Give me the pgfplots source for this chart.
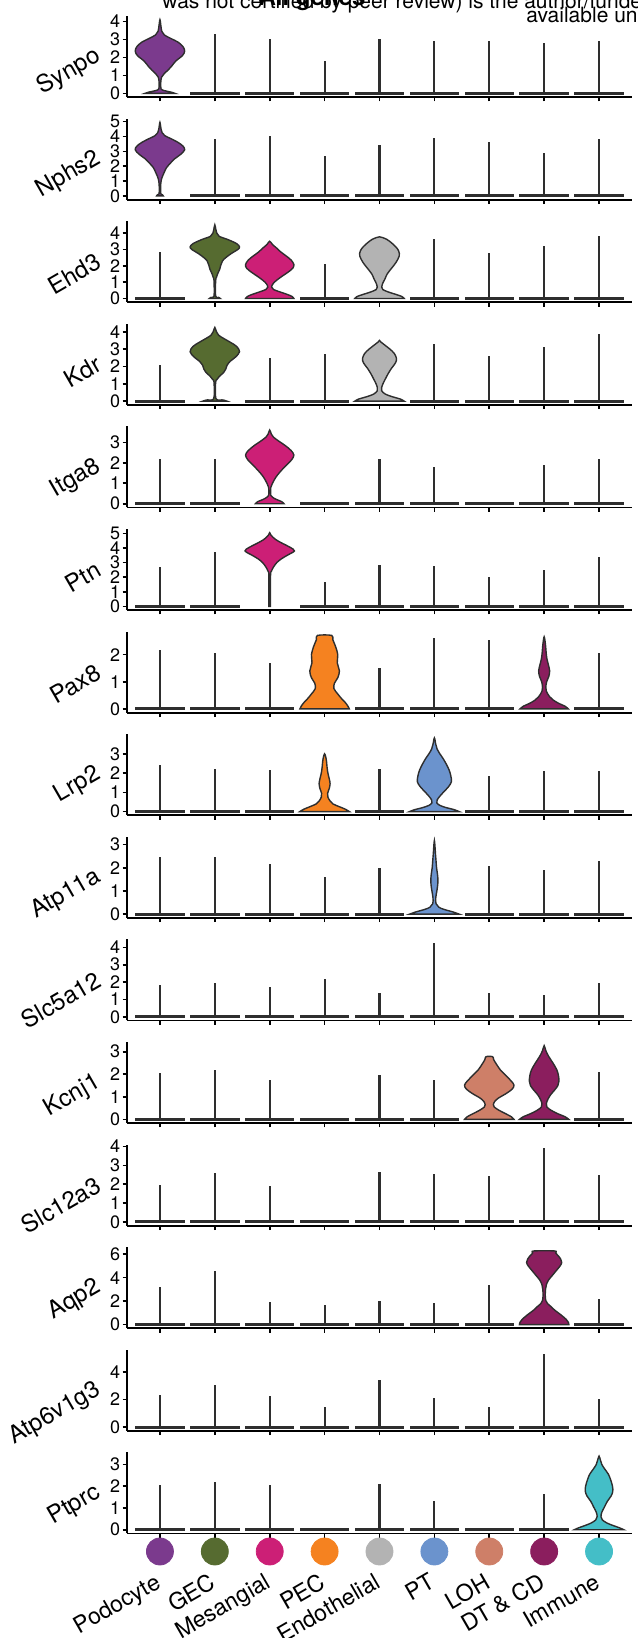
\documentclass[border=0pt]{standalone}
\usepackage{fontspec}
\setmainfont{TeX Gyre Heros}
\usepackage{pgfplots}
\pgfplotsset{compat=1.18}

\definecolor{cPod}{HTML}{7B3A8D}
\definecolor{cGEC}{HTML}{566B30}
\definecolor{cMes}{HTML}{CC1F76}
\definecolor{cPEC}{HTML}{F58220}
\definecolor{cEnd}{HTML}{B3B3B3}
\definecolor{cPT}{HTML}{6B93CD}
\definecolor{cLOH}{HTML}{CE7F68}
\definecolor{cDT}{HTML}{8B1E5E}
\definecolor{cImm}{HTML}{44BEC7}
\definecolor{vline}{HTML}{2E2E2E}

\pgfplotsset{
  panel/.style={width=252.5pt,height=40.5pt,scale only axis,anchor=south west,
    xmin=-0.6,xmax=8.6,
    axis x line=bottom, axis y line=left,
    axis line style={-,line width=0.9pt,black},
    xtick={0,1,...,8}, xticklabels={},
    tick align=outside, major tick length=2.2pt,
    tick style={black,line width=0.8pt},
    yticklabel style={font=\fontsize{9}{9}\selectfont, inner sep=1pt},
    /pgf/number format/assume math mode=true},
  vio/.style={fill=#1, draw=vline, line width=0.7pt, smooth, tension=0.55, mark=none},
}
\tikzset{gl/.style={rotate=30, anchor=east, inner sep=0pt, font=\fontsize{12}{12}\selectfont},
  gp/.style={xshift=-14pt,yshift=1pt}}

\newcommand{\thinviolins}[1]{%
  \addplot[ycomb, draw=vline, line width=1.1pt, mark=none] table[x=x,y=m,row sep=\\]{#1};
  \addplot[draw=none, mark=none, error bars/.cd, x dir=both, x fixed=0.45, error mark=none,
     error bar style={line width=1.5pt, draw=vline}] table[x=x,y expr=0,row sep=\\]{#1};
}
\newcommand{\vio}[3]{%
  \addplot[vio=#1] table[x expr=\thisrow{w}+#2,y=y,row sep=\\]{#3} -- cycle;
}

\begin{document}
\begin{tikzpicture}
\useasboundingbox (0,0) rectangle (318.5pt,-819pt);

% 1 Synpo
\begin{axis}[panel, name=p1, at={(63.5pt,-48.5pt)}, ymin=-0.205, ymax=4.305, ytick={0,1,2,3,4}]
\thinviolins{x m\\1 3.3\\2 3.05\\3 1.8\\4 3.0\\5 2.9\\6 2.9\\7 2.8\\8 2.9\\}
\vio{cPod}{0}{w y\\0.27 0\\0.2 0.07\\0.08 0.15\\0.02 0.25\\0.015 0.6\\0.03 0.9\\0.08 1.1\\0.15 1.3\\0.21 1.5\\0.29 1.8\\0.41 2.1\\0.45 2.35\\0.42 2.6\\0.33 2.85\\0.2 3.05\\0.08 3.25\\0.035 3.45\\0.02 3.7\\0 4.1\\-0.02 3.7\\-0.035 3.45\\-0.08 3.25\\-0.2 3.05\\-0.33 2.85\\-0.42 2.6\\-0.45 2.35\\-0.41 2.1\\-0.29 1.8\\-0.21 1.5\\-0.15 1.3\\-0.08 1.1\\-0.03 0.9\\-0.015 0.6\\-0.02 0.25\\-0.08 0.15\\-0.2 0.07\\-0.27 0\\}
\end{axis}
\node[gl] at ([gp]p1.west) {Synpo};

% 2 Nphs2
\begin{axis}[panel, name=p2, at={(63.5pt,-99.8pt)}, ymin=-0.25, ymax=5.2, ytick={0,1,2,3,4,5}]
\thinviolins{x m\\1 3.8\\2 4.0\\3 2.7\\4 3.45\\5 3.9\\6 3.6\\7 2.9\\8 3.85\\}
\vio{cPod}{0}{w y\\0.06 0\\0.045 0.08\\0.015 0.16\\0.015 0.8\\0.03 1.15\\0.05 1.35\\0.08 1.6\\0.12 1.9\\0.19 2.2\\0.27 2.5\\0.38 2.8\\0.45 3.1\\0.42 3.35\\0.33 3.6\\0.2 3.85\\0.09 4.05\\0.04 4.25\\0.02 4.5\\0 4.95\\-0.02 4.5\\-0.04 4.25\\-0.09 4.05\\-0.2 3.85\\-0.33 3.6\\-0.42 3.35\\-0.45 3.1\\-0.38 2.8\\-0.27 2.5\\-0.19 2.2\\-0.12 1.9\\-0.08 1.6\\-0.05 1.35\\-0.03 1.15\\-0.015 0.8\\-0.015 0.16\\-0.045 0.08\\-0.06 0\\}
\end{axis}
\node[gl] at ([gp]p2.west) {Nphs2};

% 3 Ehd3
\begin{axis}[panel, name=p3, at={(63.5pt,-151.1pt)}, ymin=-0.225, ymax=4.725, ytick={0,1,2,3,4}]
\thinviolins{x m\\0 2.85\\3 2.1\\5 3.65\\6 2.8\\7 3.2\\8 3.8\\}
\vio{cGEC}{1}{w y\\0.1 0\\0.07 0.07\\0.015 0.14\\0.015 1.1\\0.03 1.3\\0.05 1.5\\0.09 1.8\\0.11 2.05\\0.14 2.3\\0.2 2.5\\0.3 2.75\\0.42 3.0\\0.45 3.15\\0.4 3.35\\0.24 3.6\\0.08 3.8\\0.035 4.0\\0.02 4.2\\0 4.5\\-0.02 4.2\\-0.035 4.0\\-0.08 3.8\\-0.24 3.6\\-0.4 3.35\\-0.45 3.15\\-0.42 3.0\\-0.3 2.75\\-0.2 2.5\\-0.14 2.3\\-0.11 2.05\\-0.09 1.8\\-0.05 1.5\\-0.03 1.3\\-0.015 1.1\\-0.015 0.14\\-0.07 0.07\\-0.1 0\\}
\vio{cMes}{2}{w y\\0.44 0\\0.41 0.12\\0.32 0.25\\0.19 0.4\\0.07 0.55\\0.035 0.7\\0.06 0.9\\0.12 1.1\\0.22 1.35\\0.33 1.6\\0.42 1.85\\0.44 2.08\\0.39 2.35\\0.3 2.6\\0.2 2.85\\0.12 3.1\\0.05 3.3\\0 3.5\\-0.05 3.3\\-0.12 3.1\\-0.2 2.85\\-0.3 2.6\\-0.39 2.35\\-0.44 2.08\\-0.42 1.85\\-0.33 1.6\\-0.22 1.35\\-0.12 1.1\\-0.06 0.9\\-0.035 0.7\\-0.07 0.55\\-0.19 0.4\\-0.32 0.25\\-0.41 0.12\\-0.44 0\\}
\vio{cEnd}{4}{w y\\0.45 0\\0.41 0.12\\0.3 0.25\\0.16 0.4\\0.06 0.55\\0.04 0.7\\0.055 0.9\\0.1 1.2\\0.14 1.5\\0.22 1.85\\0.3 2.2\\0.36 2.6\\0.35 2.9\\0.3 3.15\\0.22 3.4\\0.14 3.6\\0.06 3.72\\0 3.77\\-0.06 3.72\\-0.14 3.6\\-0.22 3.4\\-0.3 3.15\\-0.35 2.9\\-0.36 2.6\\-0.3 2.2\\-0.22 1.85\\-0.14 1.5\\-0.1 1.2\\-0.055 0.9\\-0.04 0.7\\-0.06 0.55\\-0.16 0.4\\-0.3 0.25\\-0.41 0.12\\-0.45 0\\}
\end{axis}
\node[gl] at ([gp]p3.west) {Ehd3};

% 4 Kdr
\begin{axis}[panel, name=p4, at={(63.5pt,-202.4pt)}, ymin=-0.21, ymax=4.46, ytick={0,1,2,3,4}]
\thinviolins{x m\\0 2.1\\2 2.5\\3 2.7\\5 3.3\\6 2.6\\7 3.15\\8 3.85\\}
\vio{cGEC}{1}{w y\\0.22 0\\0.15 0.07\\0.02 0.15\\0.015 1.1\\0.04 1.25\\0.09 1.45\\0.16 1.65\\0.2 1.85\\0.22 2.05\\0.28 2.3\\0.38 2.55\\0.45 2.85\\0.4 3.15\\0.28 3.4\\0.17 3.6\\0.07 3.8\\0.03 4.0\\0 4.25\\-0.03 4.0\\-0.07 3.8\\-0.17 3.6\\-0.28 3.4\\-0.4 3.15\\-0.45 2.85\\-0.38 2.55\\-0.28 2.3\\-0.22 2.05\\-0.2 1.85\\-0.16 1.65\\-0.09 1.45\\-0.04 1.25\\-0.015 1.1\\-0.02 0.15\\-0.15 0.07\\-0.22 0\\}
\vio{cEnd}{4}{w y\\0.45 0\\0.38 0.12\\0.24 0.25\\0.11 0.4\\0.04 0.6\\0.04 0.8\\0.07 1.05\\0.11 1.3\\0.16 1.6\\0.22 1.9\\0.29 2.2\\0.31 2.45\\0.27 2.75\\0.19 3.0\\0.09 3.25\\0.03 3.4\\0 3.5\\-0.03 3.4\\-0.09 3.25\\-0.19 3.0\\-0.27 2.75\\-0.31 2.45\\-0.29 2.2\\-0.22 1.9\\-0.16 1.6\\-0.11 1.3\\-0.07 1.05\\-0.04 0.8\\-0.04 0.6\\-0.11 0.4\\-0.24 0.25\\-0.38 0.12\\-0.45 0\\}
\end{axis}
\node[gl] at ([gp]p4.west) {Kdr};

% 5 Itga8
\begin{axis}[panel, name=p5, at={(63.5pt,-253.7pt)}, ymin=-0.18, ymax=3.78, ytick={0,1,2,3}]
\thinviolins{x m\\0 2.2\\1 2.2\\3 0\\4 2.2\\5 1.8\\6 0\\7 1.9\\8 2.2\\}
\vio{cMes}{2}{w y\\0.26 0\\0.22 0.1\\0.13 0.2\\0.06 0.3\\0.02 0.4\\0.02 0.8\\0.05 1.0\\0.09 1.2\\0.14 1.4\\0.22 1.65\\0.31 1.9\\0.4 2.15\\0.44 2.38\\0.39 2.6\\0.28 2.85\\0.17 3.05\\0.07 3.25\\0.03 3.4\\0 3.6\\-0.03 3.4\\-0.07 3.25\\-0.17 3.05\\-0.28 2.85\\-0.39 2.6\\-0.44 2.38\\-0.4 2.15\\-0.31 1.9\\-0.22 1.65\\-0.14 1.4\\-0.09 1.2\\-0.05 1.0\\-0.02 0.8\\-0.02 0.4\\-0.06 0.3\\-0.13 0.2\\-0.22 0.1\\-0.26 0\\}
\end{axis}
\node[gl] at ([gp]p5.west) {Itga8};

% 6 Ptn
\begin{axis}[panel, name=p6, at={(63.5pt,-305.0pt)}, ymin=-0.25, ymax=5.3, ytick={0,1,2,3,4,5}]
\thinviolins{x m\\0 2.7\\1 3.75\\3 1.7\\4 2.85\\5 2.75\\6 2.0\\7 2.5\\8 3.35\\}
\vio{cMes}{2}{w y\\0.015 0\\0.015 2.1\\0.03 2.4\\0.07 2.7\\0.13 3.0\\0.21 3.25\\0.32 3.5\\0.45 3.8\\0.37 4.05\\0.24 4.3\\0.12 4.55\\0.05 4.77\\0.02 4.9\\0 5.05\\-0.02 4.9\\-0.05 4.77\\-0.12 4.55\\-0.24 4.3\\-0.37 4.05\\-0.45 3.8\\-0.32 3.5\\-0.21 3.25\\-0.13 3.0\\-0.07 2.7\\-0.03 2.4\\-0.015 2.1\\-0.015 0\\}
\end{axis}
\node[gl] at ([gp]p6.west) {Ptn};

% 7 Pax8
\begin{axis}[panel, name=p7, at={(63.5pt,-356.3pt)}, ymin=-0.136, ymax=2.85, ytick={0,1,2}]
\thinviolins{x m\\0 2.17\\1 2.07\\2 1.7\\4 1.5\\5 2.63\\6 2.53\\8 2.07\\}
\vio{cPEC}{3}{w y\\0.45 0\\0.42 0.12\\0.37 0.25\\0.3 0.4\\0.24 0.55\\0.17 0.75\\0.18 0.95\\0.24 1.15\\0.27 1.4\\0.23 1.7\\0.24 2.0\\0.2 2.3\\0.15 2.55\\0.13 2.71\\-0.13 2.71\\-0.15 2.55\\-0.2 2.3\\-0.24 2.0\\-0.23 1.7\\-0.27 1.4\\-0.24 1.15\\-0.18 0.95\\-0.17 0.75\\-0.24 0.55\\-0.3 0.4\\-0.37 0.25\\-0.42 0.12\\-0.45 0\\}
\vio{cDT}{7}{w y\\0.44 0\\0.38 0.1\\0.27 0.2\\0.17 0.32\\0.1 0.45\\0.04 0.65\\0.03 0.8\\0.045 1.0\\0.085 1.2\\0.1 1.4\\0.08 1.6\\0.05 1.85\\0.035 2.1\\0.025 2.35\\0 2.66\\-0.025 2.35\\-0.035 2.1\\-0.05 1.85\\-0.08 1.6\\-0.1 1.4\\-0.085 1.2\\-0.045 1.0\\-0.03 0.8\\-0.04 0.65\\-0.1 0.45\\-0.17 0.32\\-0.27 0.2\\-0.38 0.1\\-0.44 0\\}
\end{axis}
\node[gl] at ([gp]p7.west) {Pax8};

% 8 Lrp2
\begin{axis}[panel, name=p8, at={(63.5pt,-407.6pt)}, ymin=-0.19, ymax=4.02, ytick={0,1,2,3}]
\thinviolins{x m\\0 2.4\\1 2.2\\2 2.15\\4 2.2\\6 1.87\\7 2.1\\8 2.1\\}
\vio{cPEC}{3}{w y\\0.45 0\\0.38 0.12\\0.27 0.25\\0.15 0.4\\0.1 0.55\\0.06 0.75\\0.055 0.95\\0.085 1.2\\0.1 1.45\\0.085 1.7\\0.06 2.0\\0.045 2.3\\0.035 2.6\\0.02 2.85\\0 3.0\\-0.02 2.85\\-0.035 2.6\\-0.045 2.3\\-0.06 2.0\\-0.085 1.7\\-0.1 1.45\\-0.085 1.2\\-0.055 0.95\\-0.06 0.75\\-0.1 0.55\\-0.15 0.4\\-0.27 0.25\\-0.38 0.12\\-0.45 0\\}
\vio{cPT}{5}{w y\\0.45 0\\0.36 0.1\\0.22 0.2\\0.1 0.32\\0.045 0.45\\0.05 0.6\\0.1 0.8\\0.18 1.05\\0.26 1.3\\0.31 1.55\\0.3 1.85\\0.27 2.15\\0.22 2.45\\0.16 2.75\\0.1 3.0\\0.05 3.25\\0.025 3.5\\0 3.83\\-0.025 3.5\\-0.05 3.25\\-0.1 3.0\\-0.16 2.75\\-0.22 2.45\\-0.27 2.15\\-0.3 1.85\\-0.31 1.55\\-0.26 1.3\\-0.18 1.05\\-0.1 0.8\\-0.05 0.6\\-0.045 0.45\\-0.1 0.32\\-0.22 0.2\\-0.36 0.1\\-0.45 0\\}
\end{axis}
\node[gl] at ([gp]p8.west) {Lrp2};

% 9 Atp11a
\begin{axis}[panel, name=p9, at={(63.5pt,-458.9pt)}, ymin=-0.16, ymax=3.34, ytick={0,1,2,3}]
\thinviolins{x m\\0 2.45\\1 2.45\\2 2.15\\3 1.6\\4 2.0\\6 2.1\\7 1.9\\8 2.3\\}
\vio{cPT}{5}{w y\\0.45 0\\0.33 0.1\\0.18 0.2\\0.08 0.3\\0.03 0.45\\0.025 0.7\\0.045 1.0\\0.06 1.25\\0.065 1.5\\0.055 1.75\\0.04 2.0\\0.03 2.3\\0.02 2.6\\0 3.18\\-0.02 2.6\\-0.03 2.3\\-0.04 2.0\\-0.055 1.75\\-0.065 1.5\\-0.06 1.25\\-0.045 1.0\\-0.025 0.7\\-0.03 0.45\\-0.08 0.3\\-0.18 0.2\\-0.33 0.1\\-0.45 0\\}
\end{axis}
\node[gl] at ([gp]p9.west) {Atp11a};

% 10 Slc5a12
\begin{axis}[panel, name=p10, at={(63.5pt,-510.2pt)}, ymin=-0.21, ymax=4.46, ytick={0,1,2,3,4}]
\thinviolins{x m\\0 1.82\\1 1.93\\2 1.74\\3 2.17\\4 1.39\\5 4.25\\6 1.39\\7 1.24\\8 1.92\\}
\end{axis}
\node[gl] at ([gp]p10.west) {Slc5a12};

% 11 Kcnj1
\begin{axis}[panel, name=p11, at={(63.5pt,-561.5pt)}, ymin=-0.16, ymax=3.43, ytick={0,1,2,3}]
\thinviolins{x m\\0 2.05\\1 2.2\\2 1.75\\3 0\\4 1.95\\5 1.75\\8 2.1\\}
\vio{cLOH}{6}{w y\\0.45 0\\0.4 0.12\\0.3 0.25\\0.18 0.4\\0.09 0.55\\0.075 0.65\\0.1 0.8\\0.17 0.95\\0.31 1.15\\0.42 1.35\\0.45 1.52\\0.4 1.7\\0.3 1.95\\0.2 2.2\\0.13 2.45\\0.08 2.65\\0.06 2.78\\-0.06 2.78\\-0.08 2.65\\-0.13 2.45\\-0.2 2.2\\-0.3 1.95\\-0.4 1.7\\-0.45 1.52\\-0.42 1.35\\-0.31 1.15\\-0.17 0.95\\-0.1 0.8\\-0.075 0.65\\-0.09 0.55\\-0.18 0.4\\-0.3 0.25\\-0.4 0.12\\-0.45 0\\}
\vio{cDT}{7}{w y\\0.45 0\\0.38 0.12\\0.25 0.25\\0.13 0.4\\0.05 0.55\\0.04 0.7\\0.07 0.9\\0.12 1.1\\0.19 1.3\\0.25 1.5\\0.27 1.7\\0.26 1.95\\0.23 2.2\\0.16 2.5\\0.08 2.8\\0.03 3.05\\0 3.27\\-0.03 3.05\\-0.08 2.8\\-0.16 2.5\\-0.23 2.2\\-0.26 1.95\\-0.27 1.7\\-0.25 1.5\\-0.19 1.3\\-0.12 1.1\\-0.07 0.9\\-0.04 0.7\\-0.05 0.55\\-0.13 0.4\\-0.25 0.25\\-0.38 0.12\\-0.45 0\\}
\end{axis}
\node[gl] at ([gp]p11.west) {Kcnj1};

% 12 Slc12a3
\begin{axis}[panel, name=p12, at={(63.5pt,-612.8pt)}, ymin=-0.195, ymax=4.1, ytick={0,1,2,3,4}]
\thinviolins{x m\\0 1.96\\1 2.6\\2 1.92\\3 0\\4 2.67\\5 2.53\\6 2.46\\7 3.9\\8 2.48\\}
\end{axis}
\node[gl] at ([gp]p12.west) {Slc12a3};

% 13 Aqp2
\begin{axis}[panel, name=p13, at={(63.5pt,-664.1pt)}, ymin=-0.31, ymax=6.6, ytick={0,2,4,6}]
\thinviolins{x m\\0 3.23\\1 4.57\\2 1.94\\3 1.69\\4 1.97\\5 1.83\\6 3.4\\8 2.14\\}
\vio{cDT}{7}{w y\\0.45 0\\0.44 0.2\\0.4 0.45\\0.3 0.85\\0.2 1.2\\0.12 1.55\\0.06 1.8\\0.03 2.05\\0.02 2.5\\0.025 3.0\\0.04 3.4\\0.08 3.8\\0.15 4.2\\0.22 4.6\\0.29 5.0\\0.32 5.3\\0.3 5.6\\0.25 5.9\\0.21 6.1\\0.19 6.28\\-0.19 6.28\\-0.21 6.1\\-0.25 5.9\\-0.3 5.6\\-0.32 5.3\\-0.29 5.0\\-0.22 4.6\\-0.15 4.2\\-0.08 3.8\\-0.04 3.4\\-0.025 3.0\\-0.02 2.5\\-0.03 2.05\\-0.06 1.8\\-0.12 1.55\\-0.2 1.2\\-0.3 0.85\\-0.4 0.45\\-0.44 0.2\\-0.45 0\\}
\end{axis}
\node[gl] at ([gp]p13.west) {Aqp2};

% 14 Atp6v1g3
\begin{axis}[panel, name=p14, at={(63.5pt,-715.4pt)}, ymin=-0.27, ymax=5.6, ytick={0,2,4}]
\thinviolins{x m\\0 2.36\\1 3.08\\2 2.27\\3 1.47\\4 3.4\\5 2.14\\6 1.47\\7 5.33\\8 2.02\\}
\end{axis}
\node[gl] at ([gp]p14.west) {Atp6v1g3};

% 15 Ptprc
\begin{axis}[panel, name=p15, at={(63.5pt,-766.7pt)}, ymin=-0.17, ymax=3.55, ytick={0,1,2,3}, clip=false,
  xticklabels={Podocyte,GEC,Mesangial,PEC,Endothelial,PT,LOH,DT \& CD,Immune},
  xticklabel style={yshift=-17pt, xshift=-3pt, rotate=30, anchor=north east, inner sep=0pt, font=\fontsize{11.5}{11.5}\selectfont}]
\thinviolins{x m\\0 2.05\\1 2.2\\2 2.05\\3 0\\4 2.1\\5 1.3\\6 0\\7 1.65\\}
\vio{cImm}{8}{w y\\0.45 0\\0.38 0.08\\0.27 0.18\\0.15 0.3\\0.06 0.45\\0.035 0.6\\0.05 0.8\\0.1 1.05\\0.15 1.3\\0.22 1.55\\0.25 1.76\\0.245 2.0\\0.21 2.3\\0.17 2.55\\0.1 2.8\\0.05 3.0\\0.025 3.2\\0 3.38\\-0.025 3.2\\-0.05 3.0\\-0.1 2.8\\-0.17 2.55\\-0.21 2.3\\-0.245 2.0\\-0.25 1.76\\-0.22 1.55\\-0.15 1.3\\-0.1 1.05\\-0.05 0.8\\-0.035 0.6\\-0.06 0.45\\-0.15 0.3\\-0.27 0.18\\-0.38 0.08\\-0.45 0\\}
\addplot[only marks, mark=*, mark size=6.75pt, color=cPod] coordinates {(0,-1.0)};
\addplot[only marks, mark=*, mark size=6.75pt, color=cGEC] coordinates {(1,-1.0)};
\addplot[only marks, mark=*, mark size=6.75pt, color=cMes] coordinates {(2,-1.0)};
\addplot[only marks, mark=*, mark size=6.75pt, color=cPEC] coordinates {(3,-1.0)};
\addplot[only marks, mark=*, mark size=6.75pt, color=cEnd] coordinates {(4,-1.0)};
\addplot[only marks, mark=*, mark size=6.75pt, color=cPT] coordinates {(5,-1.0)};
\addplot[only marks, mark=*, mark size=6.75pt, color=cLOH] coordinates {(6,-1.0)};
\addplot[only marks, mark=*, mark size=6.75pt, color=cDT] coordinates {(7,-1.0)};
\addplot[only marks, mark=*, mark size=6.75pt, color=cImm] coordinates {(8,-1.0)};
\end{axis}
\node[gl] at ([gp]p15.west) {Ptprc};

% header text (cropped at the top)
\node[anchor=base west, inner sep=0pt, font=\fontsize{10.5}{10.5}\selectfont] at (81pt,-4.5pt)
  {was not certified by peer review) is the author/funder, who has granted bioRxiv a license};
\node[anchor=base west, inner sep=0pt, font=\fontsize{10.5}{10.5}\selectfont] at (263pt,-11.5pt)
  {available under aCC-BY 4.0 International license.};
\node[anchor=base, inner sep=0pt, font=\bfseries\fontsize{12}{12}\selectfont] at (156pt,-2.5pt) {All genes};
\end{tikzpicture}
\end{document}
